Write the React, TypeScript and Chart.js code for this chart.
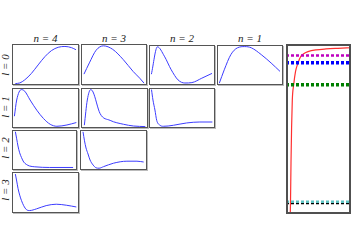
import React, { useEffect, useRef } from "react";
import { Chart, registerables } from "chart.js";

Chart.register(...registerables);

// ---- data: radial curves (normalised 0..1 within each panel) ----
const l0n4X = [0.05, 0.116, 0.19, 0.29, 0.39, 0.49, 0.59, 0.69, 0.79, 0.89, 0.955];
const l0n4Y = [0.035, 0.05, 0.125, 0.283, 0.49, 0.69, 0.84, 0.92, 0.94, 0.91, 0.86];

const l0n3X = [0.045, 0.127, 0.23, 0.34, 0.48, 0.64, 0.79, 0.89, 0.955];
const l0n3Y = [0.265, 0.54, 0.85, 0.955, 0.87, 0.62, 0.33, 0.166, 0.045];

const l0n2X = [0.036, 0.128, 0.233, 0.337, 0.44, 0.544, 0.65, 0.8, 0.955];
const l0n2Y = [0.27, 0.955, 0.72, 0.38, 0.127, 0.05, 0.06, 0.17, 0.29];

const l0n1X = [0.035, 0.11, 0.21, 0.31, 0.42, 0.52, 0.67, 0.82, 0.955];
const l0n1Y = [0.045, 0.38, 0.76, 0.93, 0.96, 0.93, 0.76, 0.55, 0.34];

const l1n4X = [0.036, 0.07, 0.14, 0.19, 0.27, 0.37, 0.47, 0.57, 0.67, 0.82, 0.96];
const l1n4Y = [0.295, 0.7, 0.96, 0.92, 0.7, 0.445, 0.237, 0.093, 0.043, 0.076, 0.136];

const l1n3X = [0.05, 0.094, 0.145, 0.18, 0.285, 0.435, 0.634, 0.784, 0.96];
const l1n3Y = [0.07, 0.7, 0.96, 0.9, 0.36, 0.19, 0.093, 0.05, 0.035];

const l1n2X = [0.038, 0.06, 0.09, 0.117, 0.167, 0.217, 0.29, 0.37, 0.57, 0.77, 0.96];
const l1n2Y = [0.96, 0.7, 0.45, 0.19, 0.068, 0.043, 0.05, 0.068, 0.126, 0.15, 0.15];

const l2n4X = [0.052, 0.072, 0.092, 0.118, 0.145, 0.18, 0.22, 0.27, 0.35, 0.58, 0.94];
const l2n4Y = [0.957, 0.78, 0.6, 0.43, 0.315, 0.2, 0.14, 0.1, 0.08, 0.063, 0.063];

const l2n3X = [0.045, 0.067, 0.09, 0.12, 0.15, 0.195, 0.24, 0.285, 0.35, 0.5, 0.7, 0.85, 0.95];
const l2n3Y = [0.955, 0.73, 0.55, 0.4, 0.25, 0.126, 0.055, 0.045, 0.083, 0.17, 0.22, 0.22, 0.2];

const l3n4X = [0.05, 0.07, 0.09, 0.115, 0.14, 0.175, 0.215, 0.264, 0.364, 0.51, 0.66, 0.81, 0.96];
const l3n4Y = [0.95, 0.78, 0.6, 0.435, 0.31, 0.177, 0.083, 0.06, 0.1, 0.18, 0.214, 0.19, 0.147];

// ---- data: potential and energy levels (right panel) ----
const potX = [4.3, 4.5, 5.0, 5.6, 6.3, 7.7, 9.5, 12, 15, 18, 22, 30, 40, 52, 65];
const potY = [-0.53, -0.497, -0.373, -0.26, -0.175, -0.126, -0.085, -0.058, -0.036, -0.028, -0.022, -0.0165, -0.0135, -0.0115, -0.0098];
const levelE = [-0.034, -0.0575, -0.1265, -0.495, -0.501];
const levelColors = ["#bf00bf", "#0000ff", "#007f00", "#5fc4c4", "#000000"];
const levelWidths = [2.5, 3.5, 3.5, 2.5, 1.5];

const colTitles = ["n = 4", "n = 3", "n = 2", "n = 1"];
const rowTitles = ["l = 0", "l = 1", "l = 2", "l = 3"];

// ---- layout ----
const panels = [
  { xs: l0n4X, ys: l0n4Y, left: 12, top: 44, w: 67, h: 41 },
  { xs: l0n3X, ys: l0n3Y, left: 81, top: 44, w: 66, h: 41 },
  { xs: l0n2X, ys: l0n2Y, left: 149, top: 45, w: 66, h: 40 },
  { xs: l0n1X, ys: l0n1Y, left: 217, top: 45, w: 66, h: 40 },
  { xs: l1n4X, ys: l1n4Y, left: 12, top: 88, w: 67, h: 40 },
  { xs: l1n3X, ys: l1n3Y, left: 81, top: 88, w: 67, h: 40 },
  { xs: l1n2X, ys: l1n2Y, left: 149, top: 88, w: 66, h: 40 },
  { xs: l2n4X, ys: l2n4Y, left: 12, top: 130, w: 65, h: 40 },
  { xs: l2n3X, ys: l2n3Y, left: 80, top: 130, w: 67, h: 40 },
  { xs: l3n4X, ys: l3n4Y, left: 12, top: 172, w: 67, h: 41 },
];
const colCenters = [45.5, 114, 182, 250];
const rowCenters = [65, 107, 148, 190];

function SmallPanel({ xs, ys, left, top, w, h }: any) {
  const ref = useRef<HTMLCanvasElement>(null);
  useEffect(() => {
    const chart = new Chart(ref.current!, {
      type: "scatter",
      data: {
        datasets: [
          {
            data: xs.map((x: number, i: number) => ({ x, y: ys[i] })),
            showLine: true,
            borderColor: "#3c3cff",
            borderWidth: 1,
            pointRadius: 0,
            cubicInterpolationMode: "monotone",
          },
        ],
      },
      options: {
        responsive: false,
        animation: false,
        layout: { padding: 0 },
        plugins: { legend: { display: false }, tooltip: { enabled: false } },
        scales: {
          x: { type: "linear", min: 0, max: 1, display: false },
          y: { type: "linear", min: 0, max: 1, display: false },
        },
      },
    });
    return () => chart.destroy();
  }, []);
  return (
    <div style={{ position: "absolute", left, top, width: w, height: h }}>
      <canvas ref={ref} width={w} height={h} style={{ position: "absolute", left: 0, top: 0 }} />
      <div
        style={{
          position: "absolute",
          left: 0,
          top: 0,
          width: w,
          height: h,
          boxSizing: "border-box",
          border: "1px solid #555",
          boxShadow: "1px 1px 0 #bbb",
        }}
      />
    </div>
  );
}

function EnergyPanel() {
  const ref = useRef<HTMLCanvasElement>(null);
  const left = 286, top = 44, w = 65, h = 170;
  useEffect(() => {
    const levelSets = levelE.map((e, i) => ({
      data: [{ x: 0, y: e }, { x: 65, y: e }],
      showLine: true,
      borderColor: levelColors[i],
      borderWidth: levelWidths[i],
      borderDash: [3, 2],
      pointRadius: 0,
    }));
    const chart = new Chart(ref.current!, {
      type: "scatter",
      data: {
        datasets: [
          ...levelSets,
          {
            data: potX.map((x, i) => ({ x, y: potY[i] })),
            showLine: true,
            borderColor: "#ff3030",
            borderWidth: 1.2,
            pointRadius: 0,
            cubicInterpolationMode: "monotone",
          },
        ],
      },
      options: {
        responsive: false,
        animation: false,
        layout: { padding: 0 },
        plugins: { legend: { display: false }, tooltip: { enabled: false } },
        scales: {
          x: { type: "linear", min: 0, max: 65, display: false },
          y: { type: "linear", min: -0.534, max: 0.002, display: false },
        },
      },
    });
    return () => chart.destroy();
  }, []);
  return (
    <div style={{ position: "absolute", left, top, width: w, height: h }}>
      <canvas ref={ref} width={w} height={h} style={{ position: "absolute", left: 0, top: 0 }} />
      <div
        style={{
          position: "absolute",
          left: 0,
          top: 0,
          width: w,
          height: h,
          boxSizing: "border-box",
          border: "2px solid #505050",
        }}
      />
    </div>
  );
}

export default function App() {
  const font = "'Liberation Serif', 'DejaVu Serif', serif";
  return (
    <div style={{ position: "absolute", left: 0, top: 0, width: 351, height: 248, background: "#fff", overflow: "hidden" }}>
      {colTitles.map((t, i) => (
        <div
          key={t}
          style={{
            position: "absolute",
            left: colCenters[i] - 30,
            width: 60,
            top: 31,
            textAlign: "center",
            fontFamily: font,
            fontStyle: "italic",
            fontSize: 11,
            lineHeight: "14px",
            color: "#222",
            whiteSpace: "pre",
          }}
        >
          {t}
        </div>
      ))}
      {rowTitles.map((t, i) => (
        <div
          key={t}
          style={{
            position: "absolute",
            left: 5 - 30,
            top: rowCenters[i] - 7,
            width: 60,
            height: 14,
            textAlign: "center",
            fontFamily: font,
            fontStyle: "italic",
            fontSize: 11,
            lineHeight: "14px",
            color: "#222",
            whiteSpace: "pre",
            transform: "rotate(-90deg)",
          }}
        >
          {t}
        </div>
      ))}
      {panels.map((p, i) => (
        <SmallPanel key={i} {...p} />
      ))}
      <EnergyPanel />
    </div>
  );
}
